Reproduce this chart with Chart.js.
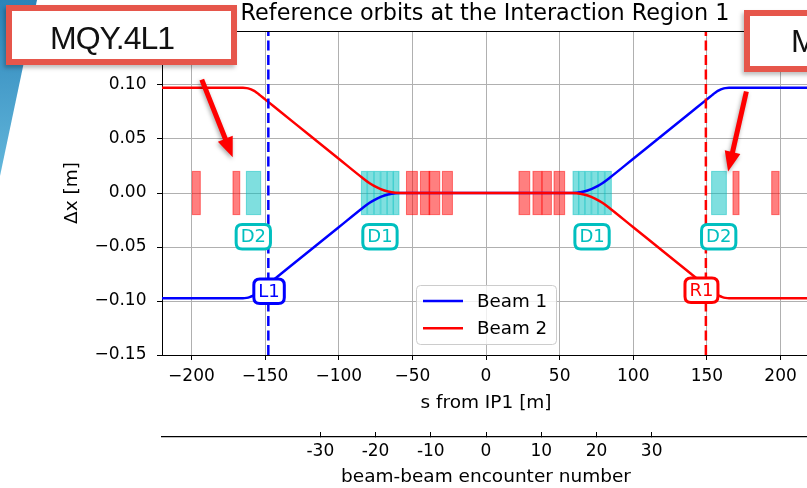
<!DOCTYPE html>
<html>
<head>
<meta charset="utf-8">
<title>IR1 reference orbits</title>
<script src="https://cdn.jsdelivr.net/npm/chart.js@4.4.1/dist/chart.umd.min.js"></script>
<style>
  body { margin: 0; background: #fff; }
  #wrap { position: relative; width: 807px; height: 488px; overflow: hidden; background: #fff; }
  #orbits { position: absolute; left: 0; top: 0; }
  .stripe {
    position: absolute; left: 0; top: 0; width: 40px; height: 180px;
    clip-path: polygon(0 0, 37px 0, 0 176px);
    background: linear-gradient(to bottom, #2c84b9, #64b8dc);
  }
  .callout {
    position: absolute; box-sizing: border-box; width: 231px;
    border: 6px solid #e6564b; background: #fff; color: #111;
    font-family: "Liberation Sans", Arial, sans-serif; font-size: 32px; letter-spacing: -1px;
    white-space: nowrap; box-shadow: -2px 3px 4px rgba(0,0,0,0.25);
  }
  #calloutL { left: 6px; top: 5px; height: 60px; line-height: 55px; padding-left: 38px; }
  #calloutR { left: 744px; top: 10px; height: 62px; line-height: 50px; padding-left: 41px; }
</style>
</head>
<body>
<div id="wrap">
  <canvas id="orbits" width="840" height="488"></canvas>
  <div class="stripe"></div>
  <div class="callout" id="calloutL">MQY.4L1</div>
  <div class="callout" id="calloutR">MQY.4R1</div>
</div>
<script>
// orbit samples: s from IP1 [m] and horizontal offset [m]
const sPts = [-220, -165, -162.5, -160.5, -158.5, -156.5, -154.5, -150, -140, -120, -100, -84, -79, -74, -69, -64, -59,
              59, 64, 69, 74, 79, 84, 100, 120, 140, 150, 154.5, 156.5, 158.5, 160.5, 162.5, 165, 220];
const beam1Dx = [-0.0975, -0.0975, -0.0971, -0.0964, -0.0953, -0.0938, -0.0917, -0.0867, -0.0757, -0.0537, -0.0317, -0.0141, -0.0090, -0.0051, -0.0023, -0.0006, 0,
                 0, 0.0006, 0.0023, 0.0051, 0.0090, 0.0141, 0.0317, 0.0537, 0.0757, 0.0867, 0.0917, 0.0938, 0.0953, 0.0964, 0.0971, 0.0975, 0.0975];
const beam2Dx = [0.0975, 0.0975, 0.0971, 0.0964, 0.0953, 0.0938, 0.0917, 0.0867, 0.0757, 0.0537, 0.0317, 0.0141, 0.0090, 0.0051, 0.0023, 0.0006, 0,
                 0, -0.0006, -0.0023, -0.0051, -0.0090, -0.0141, -0.0317, -0.0537, -0.0757, -0.0867, -0.0917, -0.0938, -0.0953, -0.0964, -0.0971, -0.0975, -0.0975];

// quadrupoles and dipoles, [start, end] in s
const quadStart = [-199.4, -171.8, -54.0, -44.5, -38.7, -29.6, 22.4, 31.9, 38.0, 46.2, 167.7, 194.0];
const quadEnd   = [-194.0, -167.2, -46.6, -38.2, -31.4, -22.8, 29.7, 38.0, 44.4, 53.4, 171.8, 199.0];
const dipStart = [-162.7, -84.6, -80.4, -75.9, -71.4, -67.0, -62.8, 59.1, 63.1, 67.3, 71.8, 76.2, 80.8, 153.2];
const dipEnd   = [-153.0, -80.8, -76.2, -71.8, -67.3, -63.1, -59.1, 62.8, 67.0, 71.4, 75.9, 80.4, 85.1, 163.2];
const magnetHalfHeight = 0.02;

// element tags
const tagText = ['D2', 'D1', 'D1', 'D2', 'L1', 'R1'];
const tagS    = [-158, -72, 72, 158, -147.3, 146.3];
const tagDx   = [-0.0405, -0.0405, -0.0405, -0.0405, -0.091, -0.090];

// vertical markers (beam 1, beam 2)
const markerS = [-147.8, 149.3];

// arrows pointing at the MQY.4 quadrupoles
const arrowFrom = [[-193, 0.105], [176.8, 0.094]];
const arrowTo   = [[-172, 0.033], [164.4, 0.0198]];

const xTicks = [-200, -150, -100, -50, 0, 50, 100, 150, 200];
const yTicks = [-0.15, -0.10, -0.05, 0, 0.05, 0.10];
const encounterTicks = [-30, -20, -10, 0, 10, 20, 30];

const sMin = -220, sMax = 220;
const encounterSpacing = 3.75;

Chart.defaults.font.family = '"DejaVu Sans", sans-serif';
Chart.defaults.color = '#000';

const toXY = ys => sPts.map((s, i) => ({ x: s, y: ys[i] }));
const vline = s => [{ x: s, y: -0.15 }, { x: s, y: 0.15 }];
const minus = v => (v < 0 ? '\u2212' : '');

function roundRect(ctx, x, y, w, h, r) {
  ctx.beginPath();
  ctx.moveTo(x + r, y);
  ctx.lineTo(x + w - r, y);
  ctx.quadraticCurveTo(x + w, y, x + w, y + r);
  ctx.lineTo(x + w, y + h - r);
  ctx.quadraticCurveTo(x + w, y + h, x + w - r, y + h);
  ctx.lineTo(x + r, y + h);
  ctx.quadraticCurveTo(x, y + h, x, y + h - r);
  ctx.lineTo(x, y + r);
  ctx.quadraticCurveTo(x, y, x + r, y);
  ctx.closePath();
}

const tagColors = { D: '#00bfbf', L: '#0000ff', R: '#ff0000' };

const overlay = {
  id: 'overlay',
  beforeDatasetsDraw(chart) {
    const { ctx, chartArea: a, scales: { x, y } } = chart;
    ctx.save();
    ctx.beginPath();
    ctx.rect(a.left, a.top, a.right - a.left, a.bottom - a.top);
    ctx.clip();
    const yt = y.getPixelForValue(magnetHalfHeight), yb = y.getPixelForValue(-magnetHalfHeight);
    const boxes = (starts, ends, col) => {
      starts.forEach((s0, i) => {
        const x0 = x.getPixelForValue(s0), x1 = x.getPixelForValue(ends[i]);
        ctx.fillStyle = col;
        ctx.fillRect(x0, yt, x1 - x0, yb - yt);
        ctx.strokeStyle = col;
        ctx.lineWidth = 1;
        ctx.strokeRect(x0, yt, x1 - x0, yb - yt);
      });
    };
    boxes(quadStart, quadEnd, 'rgba(255,0,0,0.5)');
    boxes(dipStart, dipEnd, 'rgba(0,191,191,0.5)');
    ctx.restore();
  },
  afterDatasetsDraw(chart) {
    const { ctx, scales: { x, y } } = chart;
    ctx.save();
    ctx.font = '18px "DejaVu Sans"';
    ctx.textAlign = 'center';
    ctx.textBaseline = 'middle';
    tagText.forEach((t, i) => {
      const px = x.getPixelForValue(tagS[i]), py = y.getPixelForValue(tagDx[i]);
      const col = tagColors[t[0]];
      const w = ctx.measureText(t).width + 9, h = 24.5;
      roundRect(ctx, px - w / 2, py - h / 2, w, h, 6);
      ctx.fillStyle = '#fff';
      ctx.fill();
      ctx.lineWidth = 3;
      ctx.strokeStyle = col;
      ctx.stroke();
      ctx.fillStyle = col;
      ctx.fillText(t, px, py + 1);
    });
    ctx.restore();
  },
  afterDraw(chart) {
    const { ctx, chartArea: a, scales: { x, y } } = chart;
    ctx.save();
    // top spine
    ctx.strokeStyle = '#000';
    ctx.lineWidth = 1;
    ctx.beginPath();
    ctx.moveTo(a.left, a.top + 0.5);
    ctx.lineTo(a.right, a.top + 0.5);
    ctx.stroke();

    // title
    ctx.fillStyle = '#000';
    ctx.font = '22.3px "DejaVu Sans"';
    ctx.textAlign = 'center';
    ctx.textBaseline = 'alphabetic';
    ctx.fillText('Reference orbits at the Interaction Region 1', (a.left + a.right) / 2 - 1, 20);

    // legend
    const lx = 416.5, ly = 285.5, lw = 140, lh = 59;
    roundRect(ctx, lx, ly, lw, lh, 4);
    ctx.fillStyle = 'rgba(255,255,255,0.8)';
    ctx.fill();
    ctx.strokeStyle = '#cccccc';
    ctx.stroke();
    ctx.font = '18.3px "DejaVu Sans"';
    ctx.textAlign = 'left';
    ctx.textBaseline = 'middle';
    chart.data.datasets.filter(d => d.label).forEach((d, i) => {
      const yy = 301 + i * 27.3;
      ctx.strokeStyle = d.borderColor;
      ctx.lineWidth = 2.5;
      ctx.beginPath();
      ctx.moveTo(423, yy);
      ctx.lineTo(463, yy);
      ctx.stroke();
      ctx.fillStyle = '#000';
      ctx.fillText(d.label, 477, yy + 1);
    });

    // arrows
    arrowFrom.forEach((p, i) => {
      const x0 = x.getPixelForValue(p[0]), y0 = y.getPixelForValue(p[1]);
      const x1 = x.getPixelForValue(arrowTo[i][0]), y1 = y.getPixelForValue(arrowTo[i][1]);
      const len = Math.hypot(x1 - x0, y1 - y0), ux = (x1 - x0) / len, uy = (y1 - y0) / len;
      const hl = 20, hw = 8;
      const bx = x1 - ux * hl, by = y1 - uy * hl;
      ctx.save();
      ctx.shadowColor = 'rgba(0,0,0,0.35)';
      ctx.shadowBlur = 4;
      ctx.shadowOffsetX = -1;
      ctx.shadowOffsetY = 2;
      ctx.fillStyle = '#ff0000';
      ctx.beginPath();
      ctx.moveTo(x0 - uy * 2.5, y0 + ux * 2.5);
      ctx.lineTo(bx - uy * 2.5, by + ux * 2.5);
      ctx.lineTo(bx - uy * hw, by + ux * hw);
      ctx.lineTo(x1, y1);
      ctx.lineTo(bx + uy * hw, by - ux * hw);
      ctx.lineTo(bx + uy * 2.5, by - ux * 2.5);
      ctx.lineTo(x0 + uy * 2.5, y0 - ux * 2.5);
      ctx.closePath();
      ctx.fill();
      ctx.restore();
    });
    ctx.restore();
  }
};

new Chart(document.getElementById('orbits'), {
  type: 'line',
  data: {
    datasets: [
      { label: 'Beam 1', data: toXY(beam1Dx), borderColor: '#0000ff', borderWidth: 2.5,
        pointRadius: 0, cubicInterpolationMode: 'monotone', order: 2 },
      { label: 'Beam 2', data: toXY(beam2Dx), borderColor: '#ff0000', borderWidth: 2.5,
        pointRadius: 0, cubicInterpolationMode: 'monotone', order: 1 },
      { data: vline(markerS[0]), borderColor: '#0000ff', borderWidth: 2.5, borderDash: [10, 4.5],
        pointRadius: 0, order: 0 },
      { data: vline(markerS[1]), borderColor: '#ff0000', borderWidth: 2.5, borderDash: [10, 4.5],
        pointRadius: 0, order: 0 }
    ]
  },
  options: {
    responsive: false,
    animation: false,
    devicePixelRatio: 1,
    layout: { padding: { top: 31, right: 30, left: 0, bottom: 0 } },
    plugins: { legend: { display: false }, tooltip: { enabled: false } },
    scales: {
      x: {
        type: 'linear', position: 'bottom', weight: 0, min: sMin, max: sMax,
        afterBuildTicks: s => { s.ticks = xTicks.map(v => ({ value: v })); },
        ticks: { font: { size: 17 }, padding: 6.8, maxRotation: 0, autoSkip: false,
                 callback: v => minus(v) + Math.abs(v) },
        grid: { color: '#b0b0b0', lineWidth: 1, tickColor: '#000', tickLength: 5 },
        border: { color: '#000', width: 1 },
        title: { display: true, text: 's from IP1 [m]', font: { size: 18.5 }, padding: { top: 0, bottom: 23 } },
        afterFit: s => { s.height = 82; }
      },
      x2: {
        type: 'linear', position: 'bottom', weight: 1,
        min: sMin / encounterSpacing, max: sMax / encounterSpacing,
        afterBuildTicks: s => { s.ticks = encounterTicks.map(v => ({ value: v })); },
        ticks: { font: { size: 17 }, padding: 9.8, maxRotation: 0, autoSkip: false,
                 callback: v => String(v) },
        grid: { drawOnChartArea: false, drawTicks: true, tickLength: -5, tickColor: '#000', color: '#000' },
        border: { display: true, color: '#000', width: 1.3 },
        title: { display: true, text: 'beam-beam encounter number', font: { size: 18.5 }, padding: { top: 0, bottom: -0.5 } },
        afterFit: s => { s.height = 51; }
      },
      y: {
        type: 'linear', position: 'left', min: -0.15, max: 0.15,
        afterBuildTicks: s => { s.ticks = yTicks.map(v => ({ value: v })); },
        ticks: { font: { size: 17 }, padding: 10.5,
                 callback: v => minus(v) + Math.abs(v).toFixed(2) },
        grid: { color: '#b0b0b0', lineWidth: 1, tickColor: '#000', tickLength: 5 },
        border: { color: '#000', width: 1 },
        title: { display: true, text: '\u0394x [m]', font: { size: 18.5 }, padding: { top: 61.4, bottom: 0 } },
        afterFit: s => { s.width = 162; }
      }
    }
  },
  plugins: [overlay]
});
</script>
</body>
</html>
